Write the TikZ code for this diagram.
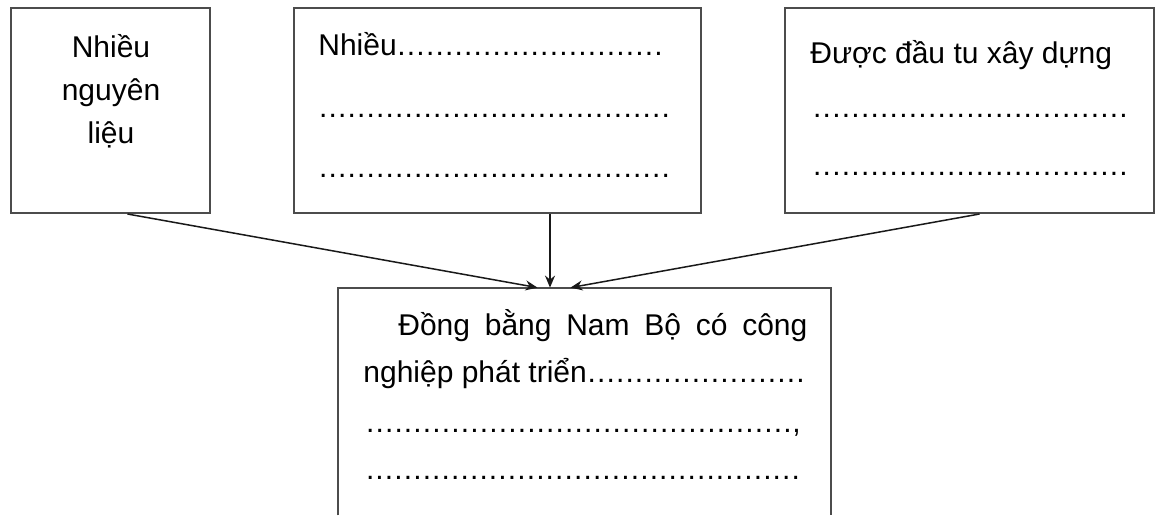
\documentclass[tikz,border=0pt]{standalone}
\usepackage{fontspec}
\setmainfont{Liberation Sans}
\usetikzlibrary{arrows.meta, positioning, calc, fit}
\newcommand{\dotline}[2]{\hbox to #1{#2\xleaders\hbox to 4.65pt{\hss.\hss}\hfill}}
\tikzset{
    frame/.style={draw=black!70, line width=1pt, rectangle, inner sep=0pt},
    txt/.style={inner sep=0pt, font=\fontsize{15}{18}\selectfont},
    arrow/.style={-{Stealth[length=6pt, width=5pt]}, line width=0.75pt, draw=black!90}
}
\begin{document}
\begin{tikzpicture}[x=0.5pt, y=-0.5pt]
    \useasboundingbox (0,0) rectangle (1155,515);

    % Three source boxes along the top
    \node[frame, fit={(11,8) (210,213)}] (raw) {};
    \node[frame, fit={(294,8) (701,213)}] (labor) {};
    \node[frame, fit={(785,8) (1154,213)}] (invest) {};

    % Target box, open at the lower edge of the page
    \node[inner sep=0pt, fit={(338,288) (831,515)}] (south) {};
    \draw[draw=black!70, line width=1pt] (south.south west) -- (south.north west) -- (south.north east) -- (south.south east);

    % Left box text
    \foreach \w/\y in {Nhiều/57, nguyên/100, liệu/143} {
        \node[txt, anchor=base] (raw-\y) at (111,\y) {\w};
    }

    % Middle box text
    \node[txt, anchor=base west] (labor-1) at (318,55) {\dotline{172.5pt}{Nhiều}};
    \node[txt, anchor=base west] (labor-2) at (318,117) {\dotline{176pt}{}};
    \node[txt, anchor=base west] (labor-3) at (318,177) {\dotline{176pt}{}};

    % Right box text
    \node[txt, anchor=base west] (invest-1) at (810,63) {Được đầu tu xây dựng};
    \node[txt, anchor=base west] (invest-2) at (812,117) {\dotline{158pt}{}};
    \node[txt, anchor=base west] (invest-3) at (812,175) {\dotline{158pt}{}};

    % Target box text
    \node[txt, anchor=base west] (south-1) at (398,335) {\makebox[204.5pt][s]{Đồng bằng Nam Bộ có công}};
    \node[txt, anchor=base west] (south-2) at (363,382) {\dotline{221pt}{nghiệp phát triển}};
    \node[txt, anchor=base west] (south-3) at (365,432) {\hbox to 217.5pt{\xleaders\hbox to 4.65pt{\hss.\hss}\hfill,}};
    \node[txt, anchor=base west] (south-4) at (365,479) {\dotline{217.5pt}{}};

    % Connectors
    \draw[arrow] ($(raw.south)+(17,0)$) -- ($(south.north)+(-47,0)$);
    \draw[arrow] ($(labor.south)+(52.5,0)$) -- ($(south.north)+(-34.5,0)$);
    \draw[arrow] ($(invest.south)+(10,0)$) -- ($(south.north)+(-14,0)$);
\end{tikzpicture}
\end{document}
